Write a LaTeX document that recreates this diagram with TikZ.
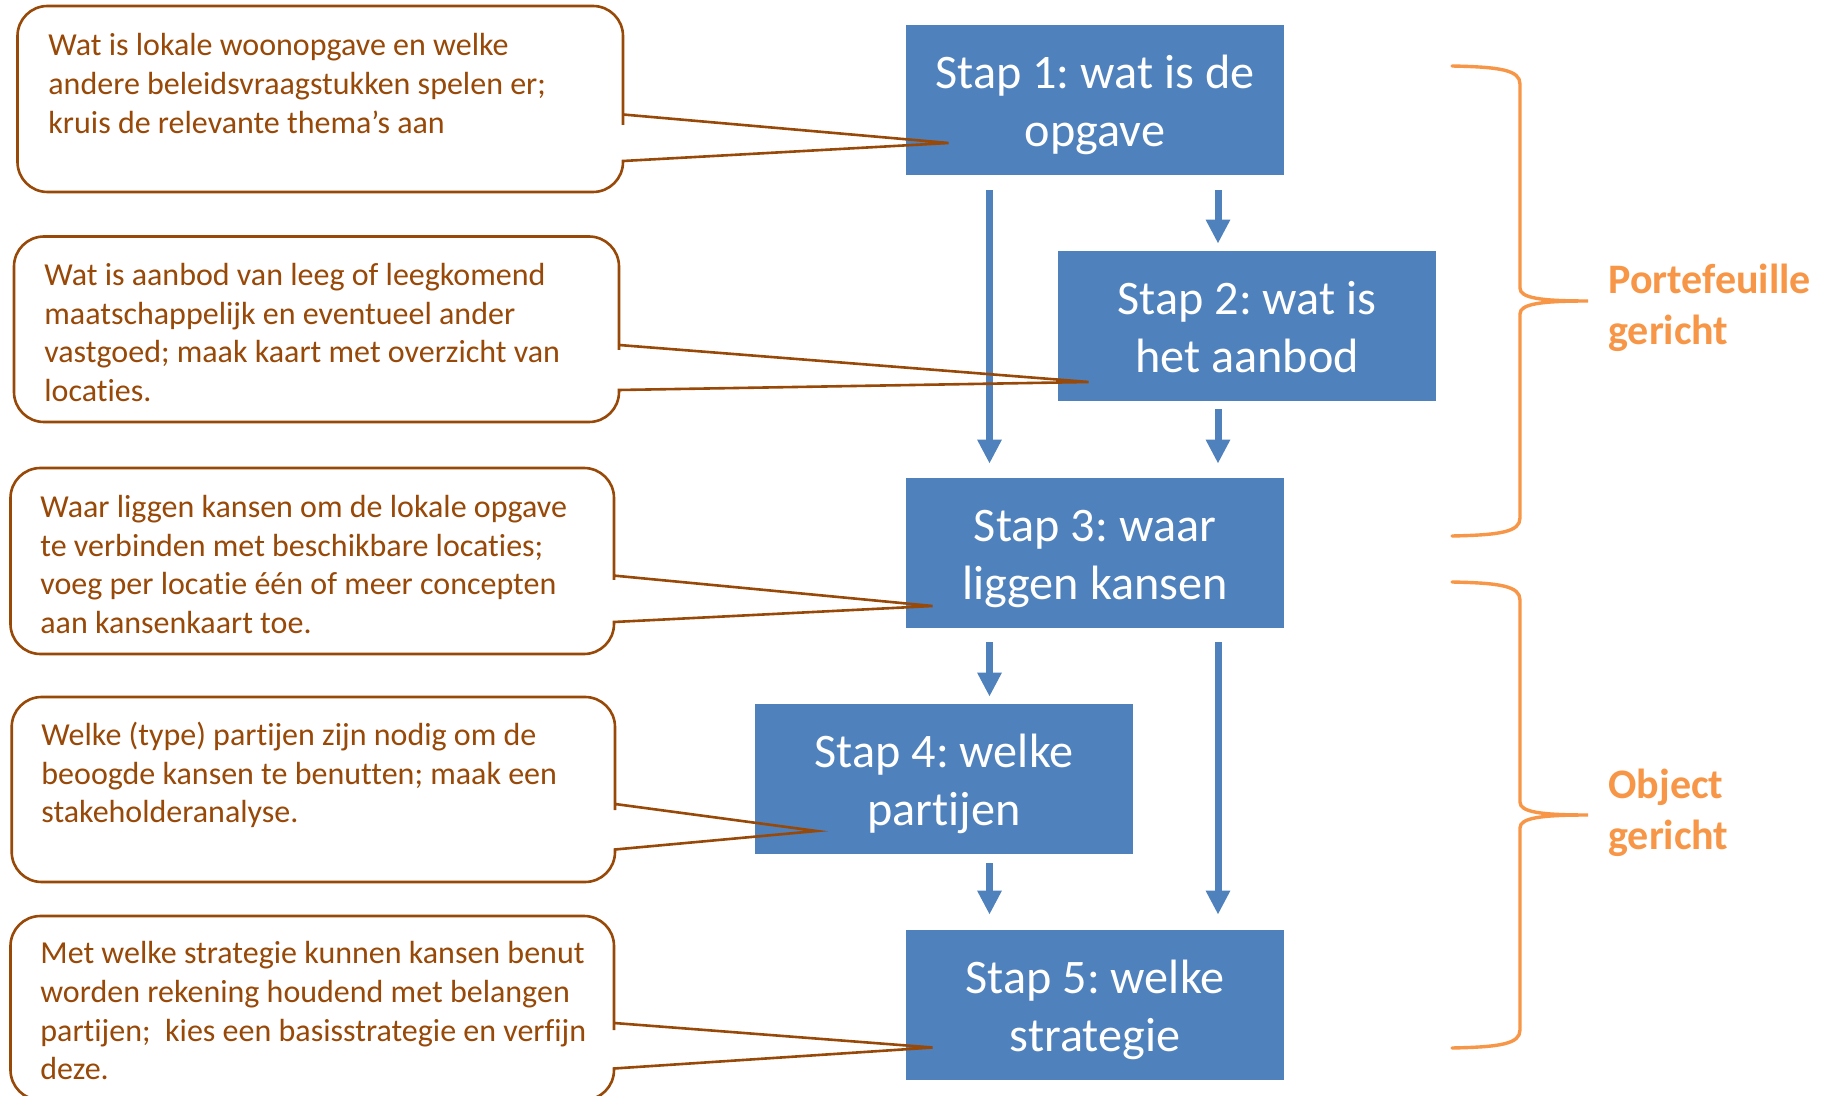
\documentclass[tikz,border=0pt]{standalone}
\usepackage{fontspec}
\setmainfont{Carlito}[Ligatures=NoCommon]
\usetikzlibrary{arrows.meta,calc}
\definecolor{boxblue}{HTML}{4F81BD}
\definecolor{callbrown}{HTML}{984807}
\definecolor{braceorange}{HTML}{F79646}
\newcommand\sttop{\rule{0pt}{23.6pt}}
\newcommand\stbot{\rule[-6.5pt]{0pt}{6.5pt}}
\frenchspacing
\begin{document}
\begin{tikzpicture}[x=0.5pt,y=-0.5pt,
  stepbox/.style={fill=boxblue, draw=none, text=white, minimum width=189pt, minimum height=75pt, inner sep=0pt, align=center, font=\fontsize{24.1pt}{29pt}\selectfont},
  calloutline/.style={draw=callbrown, line width=1.3pt, line join=miter},
  callouttext/.style={text=callbrown, align=left, anchor=west, inner sep=0pt, font=\fontsize{16pt}{19.3pt}\selectfont},
  flowarrow/.style={draw=boxblue, line width=3.5pt, -{Triangle[width=11.5pt,length=12pt]}},
  bracepath/.style={draw=braceorange, line width=1.7pt, line cap=round},
  sidelabel/.style={text=braceorange, align=left, anchor=west, inner sep=0pt, font=\fontsize{21pt}{25.6pt}\selectfont\bfseries}
]
\fill[white] (0,0) rectangle (1827,1096);
\useasboundingbox (0,0) rectangle (1827,1096);

% steps
\node[stepbox] (s1) at (1095,100) {\sttop Stap 1: wat is de\\opgave\stbot};
\node[stepbox] (s2) at (1247,326) {\sttop Stap 2: wat is\\het aanbod\stbot};
\node[stepbox] (s3) at (1095,553) {\sttop Stap 3: waar\\liggen kansen\stbot};
\node[stepbox] (s4) at (944,779) {\sttop Stap 4: welke\\partijen\stbot};
\node[stepbox] (s5) at (1095,1005) {\sttop Stap 5: welke\\strategie\stbot};

% arrows
\draw[flowarrow, shorten <=7.5pt, shorten >=7pt] ($(s1.south)+(-105.5,0)$) -- ($(s3.north)+(-105.5,0)$);
\draw[flowarrow, shorten <=7.5pt, shorten >=3.5pt] ($(s1.south)+(123,0)$) -- ($(s2.north)+(-29,0)$);
\draw[flowarrow, shorten <=4pt, shorten >=7pt] ($(s2.south)+(-29,0)$) -- ($(s3.north)+(123,0)$);
\draw[flowarrow, shorten <=7pt, shorten >=3.5pt] ($(s3.south)+(-105.5,0)$) -- ($(s4.north)+(45.5,0)$);
\draw[flowarrow, shorten <=7pt, shorten >=7.5pt] ($(s3.south)+(123,0)$) -- ($(s5.north)+(123,0)$);
\draw[flowarrow, shorten <=4.5pt, shorten >=7.5pt] ($(s4.south)+(45.5,0)$) -- ($(s5.north)+(-105.5,0)$);

% callouts
\draw[calloutline] (320,6) [rounded corners=15pt] -- (623,6) -- (623,95) [sharp corners] -- (623,114.5) -- ($(s1.west)+(43,43)$) -- (623,161) [rounded corners=15pt] -- (623,192) -- (17.5,192) -- (17.5,6) -- cycle;
\node[callouttext] (t1) at (48,83.5) {Wat is lokale woonopgave en welke\\andere beleidsvraagstukken spelen er;\\kruis de relevante thema’s aan};

\draw[calloutline] (316,236.5) [rounded corners=15pt] -- (619,236.5) -- (619,320) [sharp corners] -- (619,345) -- ($(s2.west)+(31,56)$) -- (619,390) [rounded corners=15pt] -- (619,422) -- (14,422) -- (14,236.5) -- cycle;
\node[callouttext] (t2) at (44,332.5) {Wat is aanbod van leeg of leegkomend\\maatschappelijk en eventueel ander\\vastgoed; maak kaart met overzicht van\\locaties.};

\draw[calloutline] (312,468) [rounded corners=15pt] -- (614,468) -- (614,550) [sharp corners] -- (614,575.6) -- ($(s3.west)+(27,53)$) -- (614,622) [rounded corners=15pt] -- (614,654) -- (10.5,654) -- (10.5,468) -- cycle;
\node[callouttext] (t3) at (40,564.5) {Waar liggen kansen om de lokale opgave\\te verbinden met beschikbare locaties;\\voeg per locatie één of meer concepten\\aan kansenkaart toe.};

\draw[calloutline] (313,697) [rounded corners=15pt] -- (615,697) -- (615,780) [sharp corners] -- (615,804) -- ($(s4.west)+(62,52)$) -- (615,849.5) [rounded corners=15pt] -- (615,882) -- (11.7,882) -- (11.7,697) -- cycle;
\node[callouttext] (t4) at (41,775) {Welke (type) partijen zijn nodig om de\\beoogde kansen te benutten; maak een\\stakeholderanalyse.};

\draw[calloutline] (312,916) [rounded corners=15pt] -- (614,916) -- (614,1000) [sharp corners] -- (614,1023) -- ($(s5.west)+(27,42.5)$) -- (614,1068.5) [rounded corners=15pt] -- (614,1100) -- (10.5,1100) -- (10.5,916) -- cycle;
\node[callouttext] (t5) at (40,1010.8) {Met welke strategie kunnen kansen benut\\worden rekening houdend met belangen\\partijen;~ kies een basisstrategie en verfijn\\deze.};

% braces
\draw[bracepath] (1452,66) .. controls (1500,67) and (1520,70) .. (1520,84) -- (1520,288) .. controls (1520,298) and (1540,301) .. (1588,301) .. controls (1540,301) and (1520,304) .. (1520,314) -- (1520,518) .. controls (1520,532) and (1500,535) .. (1452,536);
\draw[bracepath] (1452,582) .. controls (1500,583) and (1520,586) .. (1520,600) -- (1520,802) .. controls (1520,812) and (1540,815) .. (1588,815) .. controls (1540,815) and (1520,818) .. (1520,828) -- (1520,1030) .. controls (1520,1044) and (1500,1047) .. (1452,1048);

\node[sidelabel] (p) at (1608,308) {Portefeuille\\gericht};
\node[sidelabel] (o) at (1608,812.5) {Object\\gericht};
\end{tikzpicture}
\end{document}
